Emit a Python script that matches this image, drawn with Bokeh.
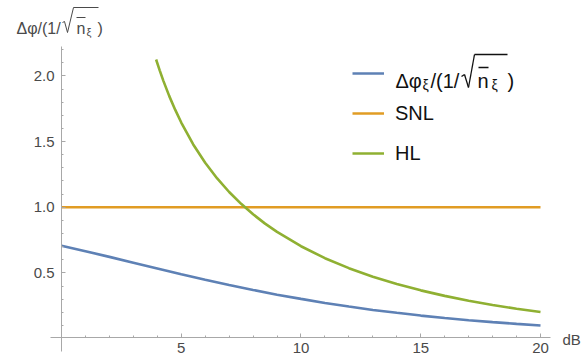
from bokeh.plotting import figure
from bokeh.models import Range1d, FixedTicker, Legend, LegendItem, Label, Arrow, ColumnDataSource
from bokeh.core.properties import value
from bokeh.embed import file_html
from bokeh.resources import INLINE

# ---- data ----
db_blue = [0, 1, 2, 3, 4, 5, 6, 7, 8, 9, 10, 11, 12, 13, 14, 15, 16, 17, 18, 19, 20]
phi_xi = [0.707, 0.665, 0.622, 0.578, 0.534, 0.490, 0.448, 0.408, 0.370, 0.334, 0.302,
          0.271, 0.244, 0.218, 0.196, 0.175, 0.157, 0.140, 0.125, 0.112, 0.100]

db_snl = [0, 20]
snl = [1.0, 1.0]

db_hl = [3.95, 4.1, 4.25, 4.5, 4.75, 5, 5.5, 6, 6.5, 7, 7.5, 8, 8.5, 9, 10, 11, 12, 13, 14, 15, 16, 17, 18, 19, 20]
hl = [2.125, 2.042, 1.964, 1.846, 1.741, 1.645, 1.478, 1.339, 1.219, 1.116, 1.026, 0.946, 0.875, 0.812, 0.703,
      0.612, 0.536, 0.471, 0.416, 0.367, 0.325, 0.288, 0.256, 0.227, 0.202]

x_ticks = [5, 10, 15, 20]
x_tick_labels = ["5", "10", "15", "20"]
x_minor = [1, 2, 3, 4, 6, 7, 8, 9, 11, 12, 13, 14, 16, 17, 18, 19]
y_ticks = [0.5, 1.0, 1.5, 2.0]
y_tick_labels = ["0.5", "1.0", "1.5", "2.0"]
y_minor = [0.1, 0.2, 0.3, 0.4, 0.6, 0.7, 0.8, 0.9, 1.1, 1.2, 1.3, 1.4, 1.6, 1.7, 1.8, 1.9, 2.1, 2.2]

BLUE = "#5E81B5"
ORANGE = "#E19C24"
GREEN = "#8FB032"
AXIS = "#a8a8a8"
TXT = "#4a4a4a"
BLACK = "#111111"
FONT = "Liberation Sans"

p = figure(width=585, height=360, output_backend="svg", toolbar_location=None,
           x_range=Range1d(-2.547, 21.879), y_range=Range1d(-0.167, 2.574),
           min_border_left=0, min_border_right=0, min_border_top=0, min_border_bottom=0)
p.outline_line_color = None
p.grid.visible = False
p.background_fill_color = "white"

p.xaxis.fixed_location = 0.008
p.yaxis.fixed_location = 0

for ax, ticks, minor, labels, bnds in (
        (p.xaxis[0], x_ticks, x_minor, x_tick_labels, (-0.44, 20.42)),
        (p.yaxis[0], y_ticks, y_minor, y_tick_labels, (-0.1, 2.227))):
    ax.ticker = FixedTicker(ticks=ticks, minor_ticks=minor)
    ax.major_label_overrides = {t: l for t, l in zip(ticks, labels)}
    ax.bounds = bnds
    ax.axis_line_color = AXIS
    ax.major_tick_line_color = AXIS
    ax.minor_tick_line_color = AXIS
    ax.major_tick_in = 4
    ax.major_tick_out = 0
    ax.minor_tick_in = 2
    ax.minor_tick_out = 0
    ax.major_label_text_font = FONT
    ax.major_label_text_font_size = "15px"
    ax.major_label_text_color = TXT
p.xaxis.major_label_standoff = 5
p.yaxis.major_label_standoff = 7

src_b = ColumnDataSource(dict(x=db_blue, y=phi_xi))
src_o = ColumnDataSource(dict(x=db_snl, y=snl))
src_g = ColumnDataSource(dict(x=db_hl, y=hl))
r_b = p.line("x", "y", source=src_b, line_color=BLUE, line_width=2.6)
r_o = p.line("x", "y", source=src_o, line_color=ORANGE, line_width=2.6)
r_g = p.line("x", "y", source=src_g, line_color=GREEN, line_width=2.6)

legend = Legend(items=[LegendItem(label=value(" "), renderers=[r_b]),
                       LegendItem(label=value("SNL"), renderers=[r_o]),
                       LegendItem(label=value("HL"), renderers=[r_g])],
                location=(352, 195), glyph_width=32, glyph_height=24, label_height=24,
                spacing=16, padding=0, margin=0, label_standoff=11,
                border_line_color=None, background_fill_alpha=0,
                label_text_font=FONT, label_text_font_size="20px", label_text_color=BLACK)
p.add_layout(legend)

H = 360  # canvas height; screen y measured from the bottom


def lab(px, py, t, size, color=BLACK, align="left", baseline="alphabetic"):
    p.add_layout(Label(x=px, y=H - py, x_units="screen", y_units="screen", text=t,
                       text_font=FONT, text_font_size=size, text_color=color,
                       text_align=align, text_baseline=baseline))


def seg(x0, y0, x1, y1, color, w):
    p.add_layout(Arrow(end=None, x_start=x0, y_start=H - y0, x_end=x1, y_end=H - y1,
                       start_units="screen", end_units="screen", line_color=color, line_width=w))


def radical(pts, color, w):
    for (a, b), (c, d) in zip(pts[:-1], pts[1:]):
        seg(a, b, c, d, color, w)


# legend label for the blue line:  Δφ_ξ/(1/√ n̄_ξ)
lab(395, 80, "Δφ", "20px")
lab(422, 84, "ξ", "14px")
lab(430, 80, "/(1/", "20px")
radical([(461, 76), (464, 74), (468, 87), (474, 54), (507, 54)], BLACK, 1.3)
lab(477, 80, "n", "20px")
seg(478, 67, 488, 67, BLACK, 1.3)
lab(491, 84, "ξ", "14px")
lab(507, 80, ")", "20px")

# y-axis title at the top left:  Δφ/(1/√ n̄_ξ)
lab(16, 28, "Δφ/(1/", "16px", TXT)
radical([(62, 22), (64, 21), (67, 32), (73, 7), (98, 7)], TXT, 1.0)
lab(76, 28, "n", "16px", TXT)
seg(76, 17, 85, 17, TXT, 1.0)
lab(86, 31, "ξ", "11px", TXT)
lab(97, 28, ")", "16px", TXT)

# x-axis title
lab(562, 339, "dB", "15px", TXT, "left", "middle")

open("out.html", "w").write(file_html(p, INLINE))
